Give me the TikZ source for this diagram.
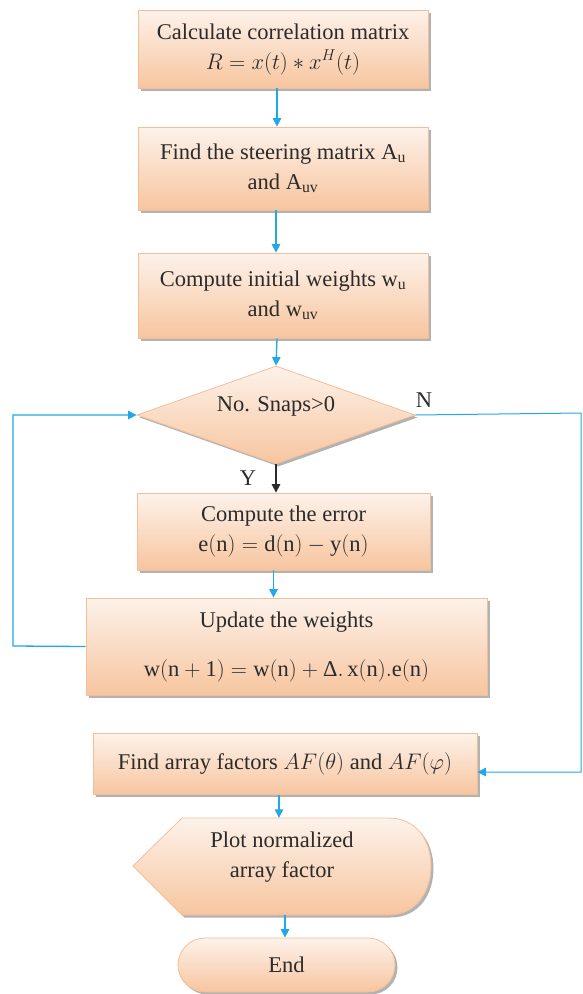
\RequirePackage{fix-cm}
\documentclass[tikz,border=0pt]{standalone}
\usepackage{fontspec}
\setmainfont{Liberation Serif}
\usetikzlibrary{shapes.geometric,shapes.misc,shadows,arrows.meta}

\definecolor{peachtop}{HTML}{FDF2EA}
\definecolor{peachbot}{HTML}{F7C59F}
\definecolor{peachedge}{HTML}{F3BE98}
\definecolor{flowblue}{HTML}{22A8E4}
\definecolor{inkgray}{HTML}{2B2B2B}

\tikzset{
  boxfont/.style={font=\fontsize{22.5}{30}\selectfont, text=inkgray},
  peachfill/.style={draw=peachedge, line width=0.8pt,
    top color=peachtop, bottom color=peachbot,
    drop shadow={shadow xshift=2.5pt, shadow yshift=-2.5pt, fill=black, opacity=0.3}},
  procbox/.style={peachfill, boxfont, align=center, inner sep=0pt, rectangle},
  decision/.style={peachfill, diamond, inner sep=0pt},
  terminal/.style={peachfill, boxfont, rounded rectangle, inner sep=0pt},
  plain/.style={boxfont, align=center, inner sep=0pt},
  flowarr/.style={draw=flowblue, line width=1.3pt, -{Triangle[length=8.5pt,width=8.5pt]}},
  darkarr/.style={draw=inkgray, line width=1.3pt, -{Triangle[length=8.5pt,width=8.5pt]}},
}

\begin{document}
\begin{tikzpicture}[x=1pt, y=-1pt]
\useasboundingbox (0,0) rectangle (583,994);

% process steps
\node[procbox, minimum width=290pt, minimum height=78pt] (corr) at (283,49)
  {Calculate correlation matrix\\ $R = x(t) \ast x^{H}(t)$};
\node[procbox, minimum width=290pt, minimum height=83pt] (steer) at (283,168.5)
  {Find the steering matrix A\textsubscript{u}\\ and A\textsubscript{uv}};
\node[procbox, minimum width=290pt, minimum height=85pt] (init) at (283,295.5)
  {Compute initial weights w\textsubscript{u}\\ and w\textsubscript{uv}};

% loop test
\node[decision, minimum width=278pt, minimum height=98pt] (snaps) at (276,415) {};
\node[plain] (snapstext) at ([yshift=9pt]snaps.center) {No. Snaps>0};

\node[procbox, minimum width=293pt, minimum height=77pt] (err) at (283.5,531.5)
  {Compute the error\\ $\mathrm{e(n) = d(n) - y(n)}$};
\node[procbox, minimum width=401pt, minimum height=97pt] (upd) at (286.5,646.5)
  {Update the weights\\[19pt] $\mathrm{w(n+1) = w(n)} + \mbox{Δ}\mathrm{.\,x(n).e(n)}$};

\node[procbox, minimum width=384pt, minimum height=61pt] (af) at (285,764)
  {Find array factors $AF(\theta)$ and $AF(\varphi)$};

% display shape for the plotting step
\path[peachfill] (133,866) -- (182,818) -- (388,818)
  .. controls (418,818) and (431,842) .. (431,866)
  .. controls (431,890) and (418,915) .. (388,915)
  -- (182,915) -- cycle;
\node[plain, minimum width=298pt, minimum height=97pt] (plot) at (282,866.5) {};
\node[plain] (plottext) at ([yshift=9pt]plot.center) {Plot normalized\\ array factor};

\node[terminal, minimum width=217pt, minimum height=54pt] (stop) at (286.5,965) {End};

% connectors
\draw[flowarr] ([xshift=-6pt]corr.south) -- ([xshift=-6pt]steer.north);
\draw[flowarr] ([xshift=-7pt]steer.south) -- ([xshift=-7pt]init.north);
\draw[flowarr] ([xshift=-6pt]init.south) -- (snaps.north);
\draw[darkarr] (snaps.south) -- (snaps.south |- err.north);
\draw[flowarr] ([xshift=-10pt]err.south) -- ([xshift=-13pt]upd.north);
\draw[flowarr] ([xshift=-6pt]af.south) -- ([xshift=-3pt]plot.north);
\draw[flowarr] ([xshift=3pt]plot.south) -- ([xshift=-1.5pt]stop.north);

\coordinate (loopleft) at (13,646);
\draw[flowarr] (upd.west) -- (loopleft) |- (snaps.west);

\coordinate (exitright) at (581,413);
\draw[flowarr, line width=1pt] (snaps.east) -- (exitright) |- ([yshift=-8pt]af.east);

% branch labels
\node[plain] (ylab) at (248,478) {Y};
\node[plain] (nlab) at (424,400) {N};
\end{tikzpicture}
\end{document}
